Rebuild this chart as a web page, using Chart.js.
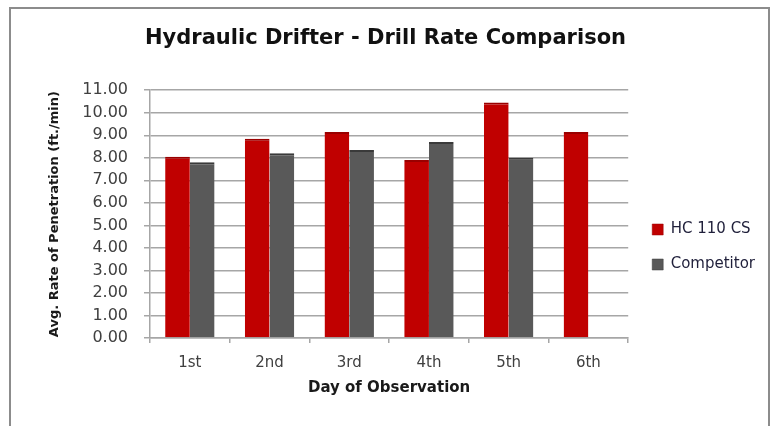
<!DOCTYPE html>
<html>
<head>
<meta charset="utf-8">
<script src="https://cdn.jsdelivr.net/npm/chart.js@4"></script>
<style>
html,body{margin:0;padding:0;background:#fff;}
#wrap{position:relative;width:775px;height:426px;}
</style>
</head>
<body>
<div id="wrap"><canvas id="c" width="775" height="426"></canvas></div>
<script>
const categories = ['1st', '2nd', '3rd', '4th', '5th', '6th'];
const hcValues = [8.05, 8.85, 9.15, 7.9, 10.45, 9.15];
const competitorValues = [7.8, 8.2, 8.35, 8.7, 8.0, null];
const seriesNames = ['HC 110 CS', 'Competitor'];
const chartTitle = 'Hydraulic Drifter - Drill Rate Comparison';
const xTitle = 'Day of Observation';
const yTitle = 'Avg. Rate of Penetration (ft./min)';

const FONT = '"DejaVu Sans", "Liberation Sans", sans-serif';

const framePlugin = {
  id: 'frame',
  beforeDraw(chart) {
    const ctx = chart.ctx;
    ctx.save();
    ctx.fillStyle = '#fff';
    ctx.fillRect(0, 0, chart.width, chart.height);
    ctx.strokeStyle = '#8c8c8c';
    ctx.lineWidth = 2;
    ctx.strokeRect(10, 8, 759, 440);
    ctx.restore();
  }
};

const legendShift = {
  id: 'legendShift',
  afterLayout(chart) {
    const l = chart.legend;
    if (!l) return;
    const dy = 34, dx = 4;
    l.top += dy; l.bottom += dy;
    l.left += dx; l.right += dx;
  }
};

new Chart(document.getElementById('c'), {
  type: 'bar',
  data: {
    labels: categories,
    datasets: [
      { label: seriesNames[0], data: hcValues, backgroundColor: '#c00000', borderColor: '#9a0000', borderWidth: {top: 2, left: 0, right: 0, bottom: 0} },
      { label: seriesNames[1], data: competitorValues, backgroundColor: '#595959', borderColor: '#3a3a3a', borderWidth: {top: 2, left: 0, right: 0, bottom: 0} }
    ]
  },
  options: {
    responsive: false,
    animation: false,
    devicePixelRatio: 1,
    layout: { padding: { left: 10, right: 14, top: 0, bottom: 0 } },
    plugins: {
      title: {
        display: true,
        text: chartTitle,
        color: '#111',
        font: { family: FONT, size: 21, weight: 'bold' },
        padding: { top: 26, bottom: 39 }
      },
      legend: {
        display: true,
        position: 'right',
        align: 'center',
        labels: {
          boxWidth: 11,
          boxHeight: 11,
          padding: 20,
          color: '#1f1f3a',
          font: { family: FONT, size: 15 }
        }
      },
      tooltip: { enabled: false }
    },
    datasets: { bar: { categoryPercentage: 0.62, barPercentage: 1.0 } },
    scales: {
      x: {
        grid: { display: true, drawOnChartArea: false, color: '#a6a6a6', lineWidth: 1.5, tickLength: 5, offset: true },
        border: { color: '#a6a6a6', width: 1.5 },
        ticks: { color: '#404040', font: { family: FONT, size: 15 }, padding: 11 },
        title: { display: true, text: xTitle, color: '#1a1a1a', font: { family: FONT, size: 15, weight: 'bold' }, padding: { top: 4, bottom: 29 } },
        afterFit(scale) { scale.height = 88; }
      },
      y: {
        min: 0,
        max: 11,
        grid: { color: '#a6a6a6', lineWidth: 1.5, tickLength: 6 },
        border: { color: '#a6a6a6', width: 1.5 },
        ticks: { stepSize: 1, color: '#404040', font: { family: FONT, size: 16 }, padding: 16,
          callback: (v) => Number(v).toFixed(2) },
        title: { display: true, text: yTitle, color: '#1a1a1a', font: { family: FONT, size: 13, weight: 'bold' }, padding: { top: 37, bottom: 0 } },
        afterFit(scale) { scale.width = 140; }
      }
    }
  },
  plugins: [framePlugin, legendShift]
});
</script>
</body>
</html>
